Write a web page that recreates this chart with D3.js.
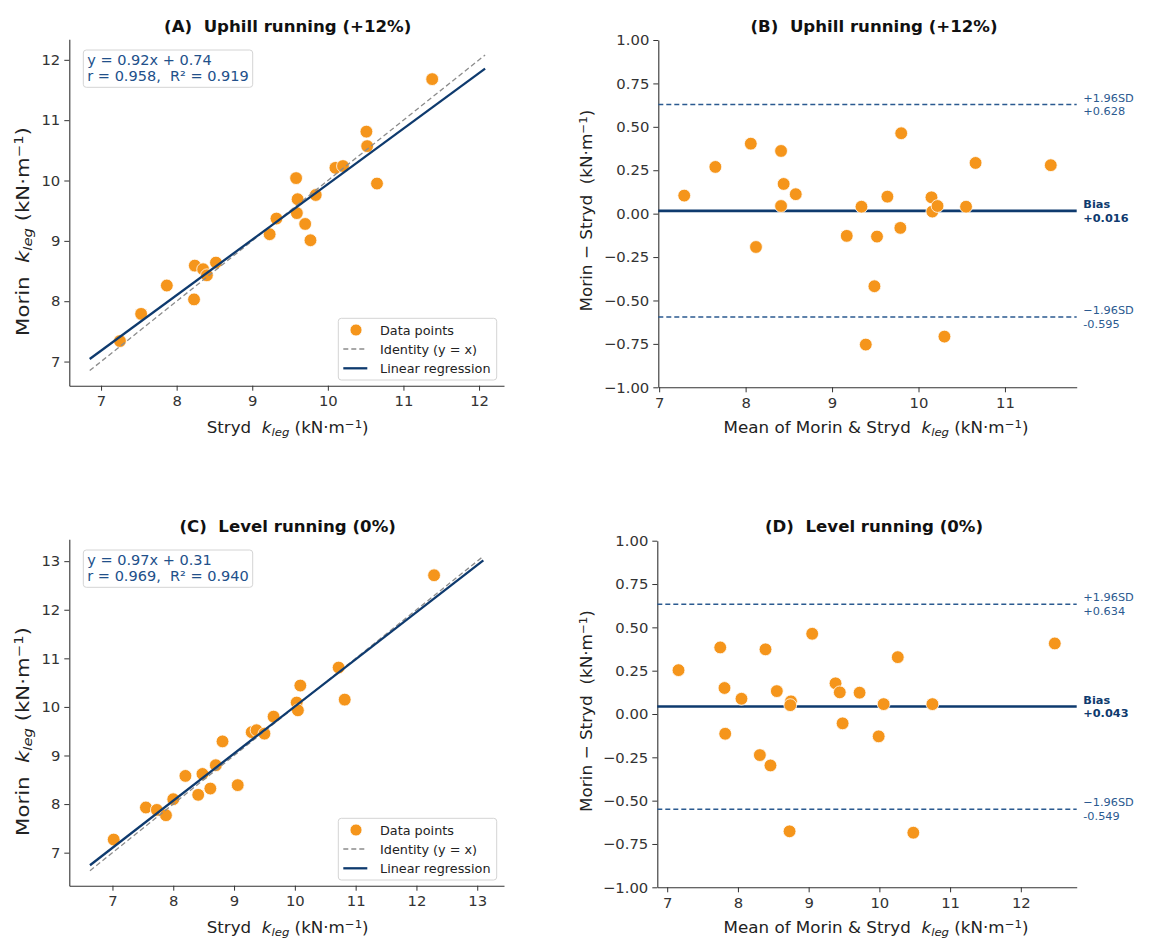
<!DOCTYPE html>
<html>
<head>
<meta charset="utf-8">
<script src="https://cdn.jsdelivr.net/npm/d3@7"></script>
<style>
  html, body { margin: 0; padding: 0; background: #fff; }
  svg { display: block; font-family: "DejaVu Sans", sans-serif; }
  text { white-space: pre; }
</style>
</head>
<body>
<svg id="chart" width="1153" height="938"></svg>
<script>
// ---------------- DATA ----------------
// Panel A: Uphill running (+12%) — Stryd (x) vs Morin (y)
const strydA = [11.38, 10.51, 10.52, 10.10, 10.20, 10.65, 9.58, 9.60, 9.84, 9.59, 9.70, 9.77, 9.32, 9.23, 8.52, 8.24, 8.35, 8.40, 8.23, 7.87, 7.53, 7.25];
const morinA = [11.68, 10.81, 10.57, 10.21, 10.24, 9.95, 10.04, 9.69, 9.76, 9.46, 9.28, 9.01, 9.37, 9.11, 8.64, 8.59, 8.53, 8.43, 8.03, 8.26, 7.79, 7.34];
const fitA = { slope: 0.92, intercept: 0.74, r: 0.958, r2: 0.919 };
const lineRangeA = [6.85, 12.08];
const ticksA = [7, 8, 9, 10, 11, 12];

// Panel B: Bland–Altman uphill
const meanB = [7.29, 7.65, 8.06, 8.12, 8.41, 8.44, 8.41, 8.58, 9.17, 9.34, 9.52, 9.49, 9.39, 9.64, 9.80, 9.79, 10.15, 10.16, 10.22, 10.30, 10.55, 10.66, 11.53];
const diffB = [0.104, 0.269, 0.403, -0.192, 0.361, 0.171, 0.044, 0.112, -0.128, 0.040, -0.132, -0.418, -0.754, 0.098, 0.463, -0.082, 0.094, 0.012, 0.044, -0.708, 0.040, 0.292, 0.279];
const statsB = { bias: 0.016, upper: 0.628, lower: -0.595 };
const xTicksB = [7, 8, 9, 10, 11];

// Panel C: Level running (0%)
const strydC = [12.29, 10.72, 10.82, 10.09, 10.03, 10.05, 9.65, 9.29, 9.37, 9.50, 8.81, 9.06, 8.70, 8.48, 8.20, 8.61, 8.41, 8.00, 7.55, 7.73, 7.88, 7.02];
const morinC = [12.71, 10.81, 10.15, 10.44, 10.09, 9.93, 9.80, 9.48, 9.52, 9.45, 9.29, 8.39, 8.80, 8.62, 8.58, 8.32, 8.19, 8.10, 7.93, 7.88, 7.77, 7.27];
const fitC = { slope: 0.97, intercept: 0.31, r: 0.969, r2: 0.940 };
const lineRangeC = [6.63, 13.1];
const ticksC = [7, 8, 9, 10, 11, 12, 13];

// Panel D: Bland–Altman level
const meanD = [7.16, 7.75, 7.81, 7.82, 8.05, 8.39, 8.31, 8.46, 8.55, 8.75, 8.74, 8.73, 9.05, 9.38, 9.44, 9.48, 9.72, 9.99, 10.06, 10.26, 10.48, 10.75, 12.48];
const diffD = [0.253, 0.384, 0.150, -0.114, 0.088, 0.373, -0.237, -0.297, 0.132, 0.073, 0.051, -0.677, 0.463, 0.177, 0.125, -0.054, 0.123, -0.129, 0.057, 0.328, -0.685, 0.057, 0.407];
const statsD = { bias: 0.043, upper: 0.634, lower: -0.549 };
const xTicksD = [7, 8, 9, 10, 11, 12];

const yTicksBA = [-1.00, -0.75, -0.50, -0.25, 0.00, 0.25, 0.50, 0.75, 1.00];

const titles = ["(A)  Uphill running (+12%)", "(B)  Uphill running (+12%)", "(C)  Level running (0%)", "(D)  Level running (0%)"];
const legendLabels = ["Data points", "Identity (y = x)", "Linear regression"];

// ---------------- STYLE ----------------
const ORANGE = "#f5951b";
const NAVY = "#0e3a6e";
const DASHNAVY = "#2b5a90";
const TXTBLUE = "#22508a";
const AXC = "#333";

const svg = d3.select("#chart");

function mathLabel(g, x, y, parts, fs, rotate, targetLen) {
  const t = g.append("text")
    .attr("text-anchor", "middle")
    .attr("font-size", fs)
    .attr("fill", "#222");
  parts.forEach(p => {
    const ts = t.append("tspan").text(p.t);
    if (p.it) ts.attr("font-style", "italic");
    if (p.sub) ts.attr("font-size", "0.7em").attr("baseline-shift", "-25%");
    if (p.sup) ts.attr("font-size", "0.7em").attr("baseline-shift", "45%");
  });
  let k = 1;
  if (targetLen) {
    const w = t.node().getBBox().width;
    if (w > 0) k = targetLen / w;
  }
  t.attr("transform", `translate(${x},${y})` + (rotate ? " rotate(-90)" : "") + ` scale(${k.toFixed(4)},1)`);
  return t;
}

const kUnits = [{t:"k", it:true}, {t:"leg", it:true, sub:true}, {t:" (kN·m"}, {t:"−1", sup:true}, {t:")"}];

function axes(g, x, y, xt, yt, xfmt, yfmt, bottom, left) {
  const ax = g.append("g").attr("transform", `translate(0,${bottom})`)
    .call(d3.axisBottom(x).tickValues(xt).tickSize(5).tickPadding(5).tickSizeOuter(0).tickFormat(xfmt));
  const ay = g.append("g").attr("transform", `translate(${left},0)`)
    .call(d3.axisLeft(y).tickValues(yt).tickSize(5).tickPadding(4).tickSizeOuter(0).tickFormat(yfmt));
  [ax, ay].forEach(a => {
    a.select(".domain").attr("stroke", AXC).attr("stroke-width", 1.1);
    a.selectAll(".tick line").attr("stroke", AXC).attr("stroke-width", 1);
    a.selectAll(".tick text").attr("fill", "#333").attr("font-size", 14.8)
      .attr("font-family", "DejaVu Sans, sans-serif");
  });
}

function scatterPanel(o) {
  const g = svg.append("g");
  const x = d3.scaleLinear().domain(o.xDom).range([o.left, o.right]);
  const y = d3.scaleLinear().domain(o.yDom).range([o.bottom, o.top]);
  axes(g, x, y, o.ticks, o.ticks, d3.format("d"), d3.format("d"), o.bottom, o.left);

  // points (drawn under lines)
  g.append("g").selectAll("circle").data(o.xs.map((v, i) => [v, o.ys[i]])).join("circle")
    .attr("cx", d => x(d[0])).attr("cy", d => y(d[1])).attr("r", 6.4)
    .attr("fill", ORANGE).attr("stroke", "#fff").attr("stroke-width", 0.8);

  const line = d3.line().x(d => x(d[0])).y(d => y(d[1]));
  const [lo, hi] = o.range;
  g.append("path").datum([[lo, lo], [hi, hi]]).attr("d", line)
    .attr("stroke", "#8c8c8c").attr("stroke-width", 1.3).attr("stroke-dasharray", "5,3").attr("fill", "none");
  g.append("path").datum([[lo, o.fit.slope * lo + o.fit.intercept], [hi, o.fit.slope * hi + o.fit.intercept]]).attr("d", line)
    .attr("stroke", NAVY).attr("stroke-width", 2.3).attr("fill", "none");

  // title
  g.append("text").attr("x", (o.left + o.right) / 2 + 1).attr("y", o.top - 7.6)
    .attr("text-anchor", "middle").attr("font-weight", "bold").attr("font-size", 16.6).attr("fill", "#111").text(o.title);

  // stats box
  const bx = o.left + 14, by = o.top + 10.7;
  g.append("rect").attr("x", bx).attr("y", by).attr("width", 169.4).attr("height", 37.3).attr("rx", 3)
    .attr("fill", "#fff").attr("fill-opacity", 0.85).attr("stroke", "#d4d4d4").attr("stroke-width", 1);
  g.append("text").attr("x", bx + 4).attr("y", by + 15).attr("font-size", 14.5).attr("fill", TXTBLUE)
    .text(`y = ${o.fit.slope.toFixed(2)}x + ${o.fit.intercept.toFixed(2)}`);
  g.append("text").attr("x", bx + 4).attr("y", by + 30.7).attr("font-size", 14.5).attr("fill", TXTBLUE)
    .text(`r = ${o.fit.r.toFixed(3)},  R² = ${o.fit.r2.toFixed(3)}`);

  // legend
  const lx = o.left + 269, ly = o.bottom - 67.4;
  g.append("rect").attr("x", lx).attr("y", ly).attr("width", 158.4).attr("height", 61.7).attr("rx", 3)
    .attr("fill", "#fff").attr("fill-opacity", 0.85).attr("stroke", "#d4d4d4").attr("stroke-width", 1);
  const rows = [ly + 11.7, ly + 30.7, ly + 50];
  g.append("circle").attr("cx", lx + 17.7).attr("cy", rows[0]).attr("r", 6).attr("fill", ORANGE)
    .attr("stroke", "#fff").attr("stroke-width", 0.8);
  g.append("line").attr("x1", lx + 5).attr("x2", lx + 29).attr("y1", rows[1]).attr("y2", rows[1])
    .attr("stroke", "#8c8c8c").attr("stroke-width", 1.3).attr("stroke-dasharray", "5,3");
  g.append("line").attr("x1", lx + 5).attr("x2", lx + 29).attr("y1", rows[2]).attr("y2", rows[2])
    .attr("stroke", NAVY).attr("stroke-width", 2.3);
  legendLabels.forEach((s, i) => {
    g.append("text").attr("x", lx + 41.7).attr("y", rows[i] + 4.6).attr("font-size", 12.8).attr("fill", "#222").text(s);
  });

  // axis labels
  mathLabel(g, (o.left + o.right) / 2 + 1, o.bottom + 47.6, [{t:"Stryd  "}].concat(kUnits), 16, false, 162);
  mathLabel(g, 28.5, (o.top + o.bottom) / 2 + 19, [{t:"Morin  "}].concat(kUnits), 17.5, true, 209);
}

function baPanel(o) {
  const g = svg.append("g");
  const x = d3.scaleLinear().domain(o.xDom).range([o.left, o.right]);
  const y = d3.scaleLinear().domain([-1, 1]).range([o.bottom, o.top]);
  axes(g, x, y, o.xTicks, yTicksBA, d3.format("d"), d3.format(".2f"), o.bottom, o.left);

  const hl = (v, col, w, dash) => {
    const l = g.append("line").attr("x1", x(o.xDom[0])).attr("x2", x(o.xDom[1]))
      .attr("y1", y(v)).attr("y2", y(v)).attr("stroke", col).attr("stroke-width", w);
    if (dash) l.attr("stroke-dasharray", dash);
  };
  hl(o.stats.upper, DASHNAVY, 1.5, "5,3");
  hl(o.stats.lower, DASHNAVY, 1.5, "5,3");
  hl(o.stats.bias, NAVY, 2.6, null);

  g.append("g").selectAll("circle").data(o.xs.map((v, i) => [v, o.ys[i]])).join("circle")
    .attr("cx", d => x(d[0])).attr("cy", d => y(d[1])).attr("r", 6.4)
    .attr("fill", ORANGE).attr("stroke", "#fff").attr("stroke-width", 0.8);

  const lab = (v, l1, l2, bold, col) => {
    const t = g.append("text").attr("x", o.right + 6.6).attr("font-size", 11.3).attr("fill", col)
      .attr("font-weight", bold ? "bold" : "normal");
    t.append("tspan").attr("x", o.right + 6.6).attr("y", y(v) - 3).text(l1);
    t.append("tspan").attr("x", o.right + 6.6).attr("y", y(v) + 10.8).text(l2);
  };
  const sgn = v => (v >= 0 ? "+" : "-") + Math.abs(v).toFixed(3);
  lab(o.stats.upper, "+1.96SD", sgn(o.stats.upper), false, DASHNAVY);
  lab(o.stats.bias, "Bias", sgn(o.stats.bias), true, NAVY);
  lab(o.stats.lower, "−1.96SD", sgn(o.stats.lower), false, DASHNAVY);

  g.append("text").attr("x", o.titleX).attr("y", o.top - 8.3)
    .attr("text-anchor", "middle").attr("font-weight", "bold").attr("font-size", 16.6).attr("fill", "#111").text(o.title);

  mathLabel(g, o.titleX + 2, o.bottom + 46, [{t:"Mean of Morin & Stryd  "}].concat(kUnits), 16, false, 305);
  mathLabel(g, 592, (o.top + o.bottom) / 2 - 3, [{t:"Morin − Stryd  (kN·m"}, {t:"−1", sup:true}, {t:")"}], 16, true, 202);
}

scatterPanel({ xs: strydA, ys: morinA, fit: fitA, range: lineRangeA, ticks: ticksA,
  xDom: [6.58, 12.33], yDom: [6.6, 12.34], left: 69.3, right: 504, top: 39.3, bottom: 385.7, title: titles[0] });
baPanel({ xs: meanB, ys: diffB, stats: statsB, xTicks: xTicksB,
  xDom: [6.99, 11.83], left: 658.3, right: 1076.7, top: 40, bottom: 387.3, title: titles[1], titleX: 874 });
scatterPanel({ xs: strydC, ys: morinC, fit: fitC, range: lineRangeC, ticks: ticksC,
  xDom: [6.29, 13.44], yDom: [6.32, 13.45], left: 69.3, right: 504, top: 539.3, bottom: 885.7, title: titles[2] });
baPanel({ xs: meanD, ys: diffD, stats: statsD, xTicks: xTicksD,
  xDom: [6.86, 12.79], left: 657.3, right: 1076.7, top: 540.7, bottom: 887.3, title: titles[3], titleX: 874 });
</script>
</body>
</html>
